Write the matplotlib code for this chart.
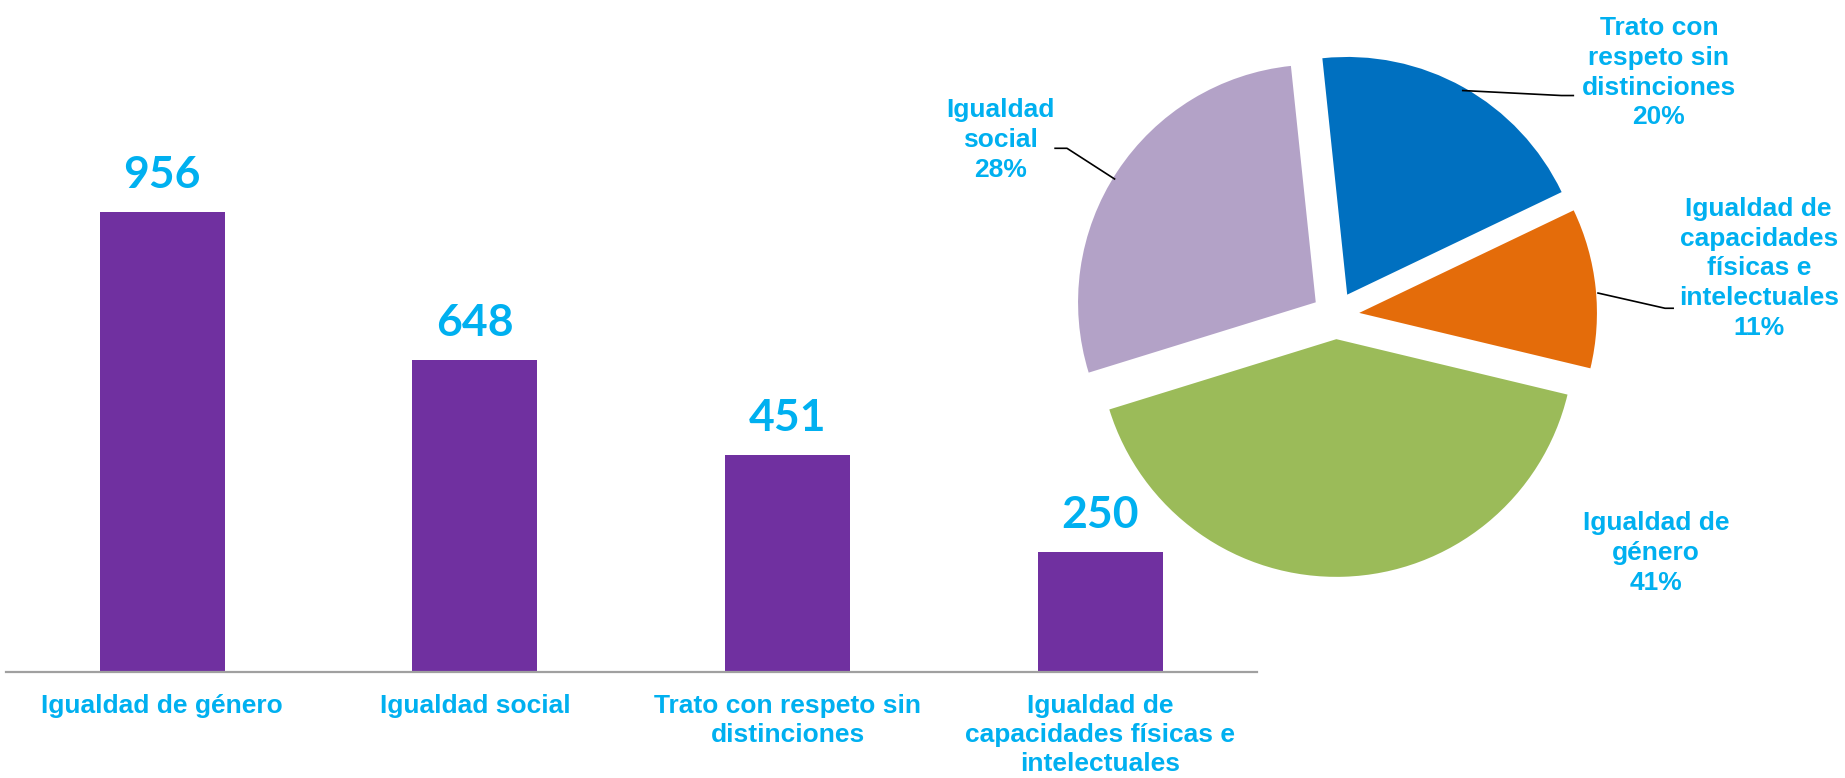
import matplotlib
matplotlib.use("Agg")
import matplotlib.pyplot as plt
import numpy as np

# ---- data ----
categories = ["Igualdad de género", "Igualdad social",
              "Trato con respeto sin\ndistinciones",
              "Igualdad de\ncapacidades físicas e\nintelectuales"]
values = [956, 648, 451, 250]

pie_order = [2, 3, 0, 1]  # Trato, capacidades, género, social
pie_labels = ["Trato con\nrespeto sin\ndistinciones",
              "Igualdad de\ncapacidades\nfísicas e\nintelectuales",
              "Igualdad de\ngénero",
              "Igualdad\nsocial"]
pie_colors = ["#0070C0", "#E46C0A", "#9BBB59", "#B3A2C7"]

BAR_COLOR = "#7030A0"
TXT_COLOR = "#00B0F0"
W, H = 1845, 778

fig = plt.figure(figsize=(W / 100, H / 100), dpi=100)

# ---- bar chart ----
axb = fig.add_axes([5.9 / W, (H - 672) / H, (1256.7 - 5.9) / W, 672 / H])
x = np.arange(len(categories))
bars = axb.bar(x, values, width=0.40, color=BAR_COLOR)
axb.set_xlim(-0.5, 3.5)
axb.set_ylim(0, 1396)
for s in ["top", "right", "left"]:
    axb.spines[s].set_visible(False)
axb.spines["bottom"].set_color("#A0A0A0")
axb.spines["bottom"].set_linewidth(1.6)
axb.set_yticks([])
axb.set_xticks(x, categories)
axb.tick_params(axis="x", length=0, pad=16)
for lbl in axb.get_xticklabels():
    lbl.set_fontfamily("Liberation Sans")
    lbl.set_fontweight("bold")
    lbl.set_fontsize(19)
    lbl.set_color(TXT_COLOR)
    lbl.set_linespacing(1.26)
for xi, v in zip(x, values):
    axb.annotate(str(v), (xi, v), xytext=(0, 17), textcoords="offset points",
                 ha="center", va="baseline", fontsize=32, fontweight="bold",
                 family="Lato", color=TXT_COLOR)

# ---- pie chart ----
cx, cy, r = 1335.6, 315.4, 237.7
half = 1.5 * r
axp = fig.add_axes([(cx - half) / W, (H - cy - half) / H, 2 * half / W, 2 * half / H])
pv = [values[i] for i in pie_order]
axp.pie(pv, colors=pie_colors, startangle=96, counterclock=False,
        explode=[0.1] * len(pv), radius=1.0,
        wedgeprops=dict(linewidth=0))
axp.set_xlim(-1.5, 1.5)
axp.set_ylim(-1.5, 1.5)
axp.set_aspect("equal")
axp.axis("off")

total = sum(pv)
pcts = [f"{round(v / total * 100)}%" for v in pv]
label_pos = [(1.36, 1.02), (1.78, 0.198), (1.347, -1.0), (-1.41, 0.738)]
for lab, pct, (tx, ty) in zip(pie_labels, pcts, label_pos):
    axp.text(tx, ty, lab + "\n" + pct, ha="center", va="center",
             fontsize=19, fontweight="bold", family="Liberation Sans",
             color=TXT_COLOR, linespacing=1.3, clip_on=False)

leaders = [
    [(0.535, 0.946), (0.95, 0.925), (1.0, 0.925)],
    [(1.104, 0.094), (1.386, 0.03), (1.42, 0.03)],
    [(-0.93, 0.574), (-1.13, 0.703), (-1.18, 0.703)],
]
for pts in leaders:
    xs, ys = zip(*pts)
    axp.plot(xs, ys, color="black", lw=1.2, clip_on=False)

fig.savefig("out.png", dpi=100)
